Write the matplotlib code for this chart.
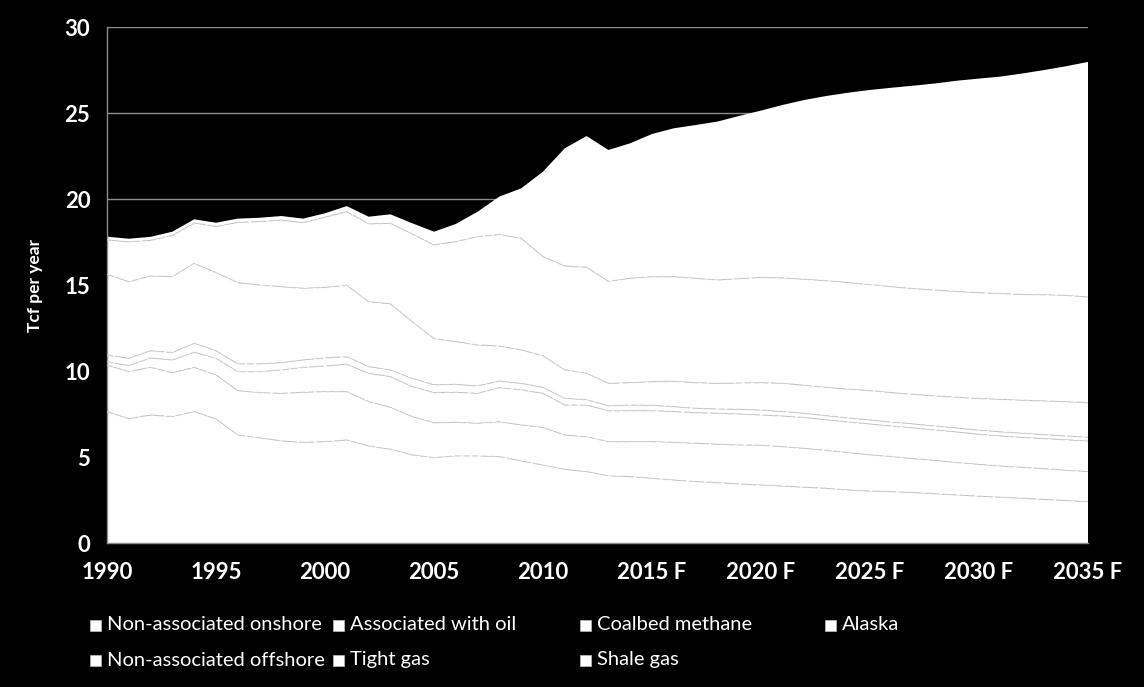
"""
US natural gas production by source, 1990-2035 (stacked area, white on black).
"""

import numpy as np
import matplotlib.pyplot as plt
from matplotlib.patches import Rectangle

plt.rcParams['font.family'] = ['Lato', 'DejaVu Sans']
plt.rcParams['font.weight'] = 'bold'

years = np.arange(1990, 2036)
tick_years = [1990, 1995, 2000, 2005, 2010, 2015, 2020, 2025, 2030, 2035]
tick_labels = ['1990', '1995', '2000', '2005', '2010',
               '2015 F', '2020 F', '2025 F', '2030 F', '2035 F']
y_ticks = [0, 5, 10, 15, 20, 25, 30]

series_names = ['Non-associated onshore', 'Associated with oil', 'Coalbed methane',
                'Alaska', 'Non-associated offshore', 'Tight gas', 'Shale gas']

# Tcf per year, 1990..2035
non_assoc_onshore = [7.64, 7.23, 7.44, 7.35, 7.64, 7.21, 6.28, 6.12, 5.93, 5.85,
                     5.89, 5.99, 5.64, 5.45, 5.12, 4.96, 5.06, 5.06, 5.02, 4.77,
                     4.53, 4.28, 4.15, 3.90, 3.86, 3.76, 3.66, 3.57, 3.51, 3.43,
                     3.37, 3.31, 3.24, 3.18, 3.08, 3.02, 2.98, 2.93, 2.86, 2.79,
                     2.72, 2.66, 2.60, 2.53, 2.47, 2.40]
associated_oil = [2.71, 2.73, 2.77, 2.55, 2.57, 2.56, 2.58, 2.62, 2.77, 2.91,
                  2.91, 2.81, 2.58, 2.44, 2.23, 2.03, 1.96, 1.90, 2.03, 2.09,
                  2.18, 2.00, 2.03, 1.99, 2.03, 2.13, 2.19, 2.23, 2.23, 2.27,
                  2.31, 2.29, 2.26, 2.21, 2.17, 2.11, 2.04, 1.97, 1.94, 1.89,
                  1.85, 1.81, 1.80, 1.79, 1.76, 1.75]
coalbed_methane = [0.19, 0.35, 0.55, 0.74, 0.88, 0.97, 1.10, 1.22, 1.36, 1.45,
                   1.49, 1.59, 1.65, 1.78, 1.74, 1.76, 1.74, 1.74, 1.98, 2.04,
                   1.99, 1.74, 1.84, 1.79, 1.80, 1.80, 1.79, 1.78, 1.80, 1.80,
                   1.76, 1.78, 1.79, 1.78, 1.78, 1.79, 1.78, 1.79, 1.77, 1.77,
                   1.75, 1.75, 1.74, 1.75, 1.77, 1.78]
alaska = [0.39, 0.43, 0.42, 0.43, 0.52, 0.44, 0.45, 0.45, 0.42, 0.43,
          0.47, 0.44, 0.38, 0.39, 0.48, 0.45, 0.46, 0.43, 0.39, 0.38,
          0.35, 0.39, 0.31, 0.29, 0.33, 0.31, 0.29, 0.25, 0.25, 0.27,
          0.29, 0.26, 0.25, 0.23, 0.24, 0.23, 0.23, 0.23, 0.23, 0.23,
          0.24, 0.24, 0.24, 0.23, 0.22, 0.22]
non_assoc_offshore = [4.69, 4.45, 4.34, 4.42, 4.65, 4.54, 4.73, 4.59, 4.42, 4.17,
                      4.10, 4.15, 3.78, 3.84, 3.30, 2.68, 2.49, 2.38, 2.03, 1.94,
                      1.84, 1.65, 1.54, 1.31, 1.30, 1.38, 1.47, 1.49, 1.49, 1.53,
                      1.59, 1.64, 1.63, 1.65, 1.67, 1.71, 1.71, 1.72, 1.75, 1.79,
                      1.84, 1.89, 1.92, 1.96, 1.99, 2.01]
tight_gas = [2.00, 2.31, 2.08, 2.39, 2.34, 2.68, 3.50, 3.68, 3.88, 3.81,
             4.08, 4.28, 4.52, 4.69, 5.10, 5.45, 5.81, 6.30, 6.49, 6.49,
             5.76, 6.04, 6.16, 5.93, 6.07, 6.10, 6.08, 6.07, 6.01, 6.07,
             6.12, 6.13, 6.16, 6.20, 6.20, 6.16, 6.16, 6.15, 6.15, 6.15,
             6.15, 6.15, 6.15, 6.17, 6.19, 6.14]
shale_gas = [0.19, 0.19, 0.20, 0.22, 0.22, 0.22, 0.22, 0.23, 0.23, 0.24,
             0.23, 0.33, 0.42, 0.52, 0.62, 0.77, 1.03, 1.45, 2.20, 2.91,
             4.94, 6.85, 7.63, 7.64, 7.85, 8.30, 8.63, 8.91, 9.21, 9.46,
             9.70, 10.06, 10.43, 10.74, 11.04, 11.32, 11.57, 11.80, 12.02, 12.26,
             12.45, 12.62, 12.85, 13.07, 13.32, 13.67]

data = np.array([non_assoc_onshore, associated_oil, coalbed_methane, alaska,
                 non_assoc_offshore, tight_gas, shale_gas])

W, H = 1144, 687
fig = plt.figure(figsize=(W / 100, H / 100), dpi=100, facecolor='black')
ax = fig.add_axes([107 / W, 1 - 543 / H, (1088 - 107) / W, (543 - 27) / H])
ax.set_facecolor('black')

# gridlines sit behind the white areas
ax.set_axisbelow(True)
ax.yaxis.grid(True, color='#8c8c8c', linewidth=1, zorder=0)

ax.stackplot(years, *data, colors=['white'] * len(data), linewidth=0, zorder=2)

# faint boundaries between the layers
tops = np.cumsum(data, axis=0)
for top in tops[:-1]:
    ax.plot(years, top, color='#d2d2d2', linewidth=0.9,
            linestyle=(0, (5, 2)), zorder=3)

ax.set_xlim(1990, 2035)
ax.set_ylim(0, 30)
ax.set_xticks(tick_years, labels=tick_labels)
ax.set_yticks(y_ticks, labels=[str(v) for v in y_ticks])
ax.tick_params(colors='white', length=0, labelsize=16)
ax.tick_params(axis='x', pad=14)
ax.tick_params(axis='y', pad=12)

for side in ['top', 'right']:
    ax.spines[side].set_visible(False)
for side in ['left', 'bottom']:
    ax.spines[side].set_color('#8c8c8c')
    ax.spines[side].set_linewidth(1)

fig.text(35 / W, 1 - 285 / H, 'Tcf per year', rotation=90, color='white',
         fontsize=12.5, fontweight='bold', ha='center', va='center')

# legend laid out like the original: 4 evenly spaced columns, 2 rows
col_x = [90, 333, 580, 825]
row_y = [625, 660]
for i, name in enumerate(series_names):
    px = col_x[i % 4]
    py = row_y[i // 4]
    fig.patches.append(Rectangle((px / W, 1 - (py + 6) / H), 11 / W, 11 / H,
                                 transform=fig.transFigure, facecolor='white',
                                 edgecolor='#bfbfbf', linewidth=0.5))
    fig.text((px + 17) / W, 1 - py / H, name, color='white', fontsize=14.5,
             fontweight='normal', ha='left', va='center')

plt.savefig('out.png', dpi=100, facecolor='black')
